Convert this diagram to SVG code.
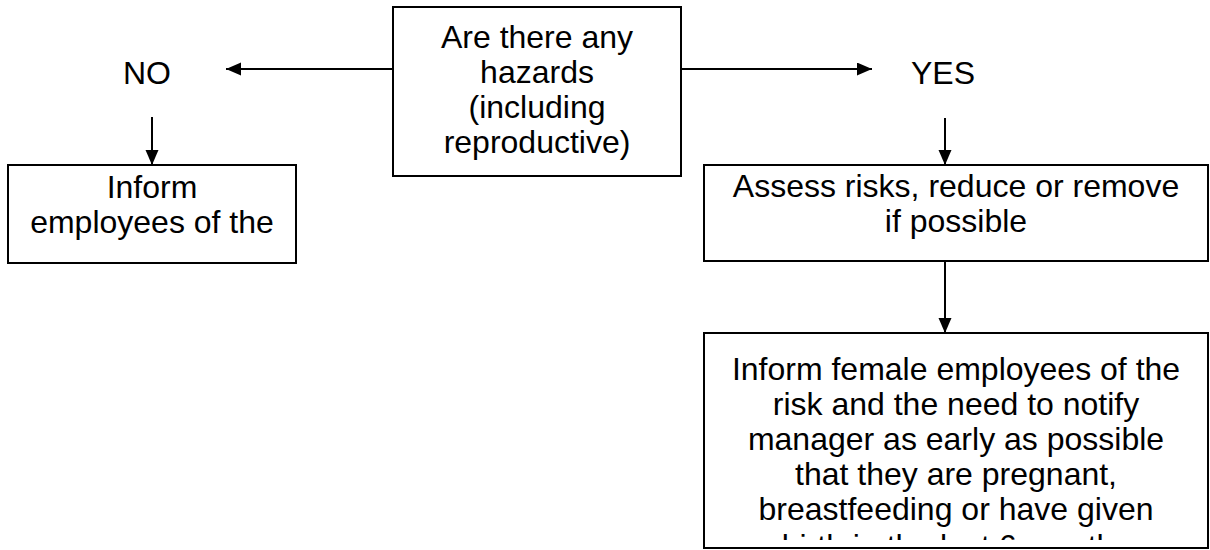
<svg xmlns="http://www.w3.org/2000/svg" width="1210" height="550" viewBox="0 0 1210 550">
  <style>
    .box { fill: #ffffff; stroke: #000000; stroke-width: 2; }
    .lbl { font-family: "Liberation Sans", Arial, sans-serif; font-size: 32px; fill: #000000; text-anchor: middle; }
    .conn { stroke: #000000; stroke-width: 2; fill: none; marker-end: url(#arrow); }
  </style>
  <defs>
    <marker id="arrow" markerUnits="userSpaceOnUse" markerWidth="16" markerHeight="14" refX="15" refY="6.5" orient="auto">
      <path d="M0,0 L15,6.5 L0,13 z" fill="#000000"/>
    </marker>
    <clipPath id="clipBox3">
      <rect x="704" y="333" width="504" height="207"/>
    </clipPath>
  </defs>
  <rect width="1210" height="550" fill="#ffffff"/>

  <g id="connectors">
    <line class="conn" x1="393" y1="69" x2="226" y2="69"/>
    <line class="conn" x1="681" y1="69" x2="872" y2="69"/>
    <line class="conn" x1="152" y1="117" x2="152" y2="165"/>
    <line class="conn" x1="945" y1="118" x2="945" y2="165"/>
    <line class="conn" x1="945" y1="261" x2="945" y2="333"/>
  </g>

  <g id="node-hazards">
    <rect class="box" x="393" y="7" width="288" height="169"/>
    <text class="lbl" x="537" y="48">Are there any</text>
    <text class="lbl" x="537" y="83">hazards</text>
    <text class="lbl" x="537" y="118">(including</text>
    <text class="lbl" x="537" y="153">reproductive)</text>
  </g>

  <g id="node-no">
    <text class="lbl" x="147" y="84">NO</text>
  </g>

  <g id="node-yes">
    <text class="lbl" x="943" y="84">YES</text>
  </g>

  <g id="node-inform-employees">
    <rect class="box" x="8" y="165" width="288" height="98"/>
    <text class="lbl" x="152" y="198">Inform</text>
    <text class="lbl" x="152" y="233">employees of the</text>
  </g>

  <g id="node-assess">
    <rect class="box" x="704" y="165" width="504" height="96"/>
    <text class="lbl" x="956" y="197">Assess risks, reduce or remove</text>
    <text class="lbl" x="956" y="232">if possible</text>
  </g>

  <g id="node-inform-female">
    <rect class="box" x="704" y="333" width="504" height="215"/>
    <g clip-path="url(#clipBox3)">
      <text class="lbl" x="956" y="380">Inform female employees of the</text>
      <text class="lbl" x="956" y="415">risk and the need to notify</text>
      <text class="lbl" x="956" y="450">manager as early as possible</text>
      <text class="lbl" x="956" y="485">that they are pregnant,</text>
      <text class="lbl" x="956" y="520">breastfeeding or have given</text>
      <text class="lbl" x="956" y="557">birth in the last 6 months</text>
    </g>
  </g>
</svg>
